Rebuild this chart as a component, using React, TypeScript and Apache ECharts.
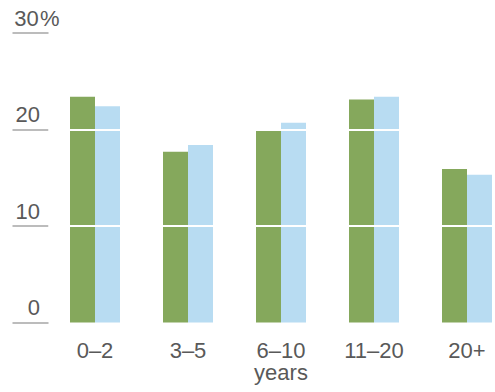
import React, { useEffect, useRef } from "react";
import * as echarts from "echarts";

const categories = ["0–2", "3–5", "6–10\nyears", "11–20", "20+"];
const seriesA = [23.4, 17.7, 20.0, 23.1, 15.9];
const seriesB = [22.4, 18.4, 20.7, 23.4, 15.3];
const gridValues = [10, 20];

export default function App() {
  const ref = useRef<HTMLDivElement>(null);
  useEffect(() => {
    if (!ref.current) return;
    const chart = echarts.init(ref.current, null, { renderer: "svg" });
    const font = "'Liberation Sans', Arial, sans-serif";
    chart.setOption({
      animation: false,
      textStyle: { fontFamily: font },
      grid: { left: 48.5, top: 33, width: 465, height: 289.5, containLabel: false },
      xAxis: {
        type: "category",
        data: categories,
        axisLine: { show: false },
        axisTick: { show: false },
        axisLabel: {
          color: "#595959",
          fontSize: 22,
          lineHeight: 22,
          fontFamily: font,
          margin: 17,
        },
      },
      yAxis: {
        type: "value",
        min: 0,
        max: 30,
        interval: 10,
        axisLine: { show: false },
        splitLine: { show: false },
        axisTick: {
          show: true,
          length: 36,
          lineStyle: { color: "#a6a6a6", width: 1.5 },
        },
        axisLabel: {
          color: "#595959",
          fontSize: 22,
          lineHeight: 22,
          fontFamily: font,
          align: "left",
          verticalAlign: "bottom",
          margin: 35.5,
          padding: [0, 0, 4, 0],
          formatter: (v: number) => (v === 30 ? "{n|30}{p|%}" : "{n|" + v + "}"),
          rich: {
            n: { fontSize: 22, lineHeight: 22, color: "#595959", fontFamily: font, width: 27, align: "right" },
            p: { fontSize: 22, lineHeight: 22, color: "#595959", fontFamily: font },
          },
        },
      },
      series: [
        {
          type: "bar",
          data: seriesA,
          barWidth: 25,
          barGap: "0%",
          itemStyle: { color: "#85a85c" },
        },
        {
          type: "bar",
          data: seriesB,
          barWidth: 25,
          barGap: "0%",
          itemStyle: { color: "#b8dcf2" },
          markLine: {
            silent: true,
            symbol: "none",
            label: { show: false },
            lineStyle: { color: "#ffffff", width: 2, type: "solid" },
            data: gridValues.map((v) => ({ yAxis: v })),
          },
        },
      ],
    });
    return () => chart.dispose();
  }, []);
  return (
    <div style={{ width: 495, height: 392, position: "absolute", left: 0, top: 0, overflow: "hidden" }}>
      <div ref={ref} style={{ width: 530, height: 392 }} />
    </div>
  );
}
